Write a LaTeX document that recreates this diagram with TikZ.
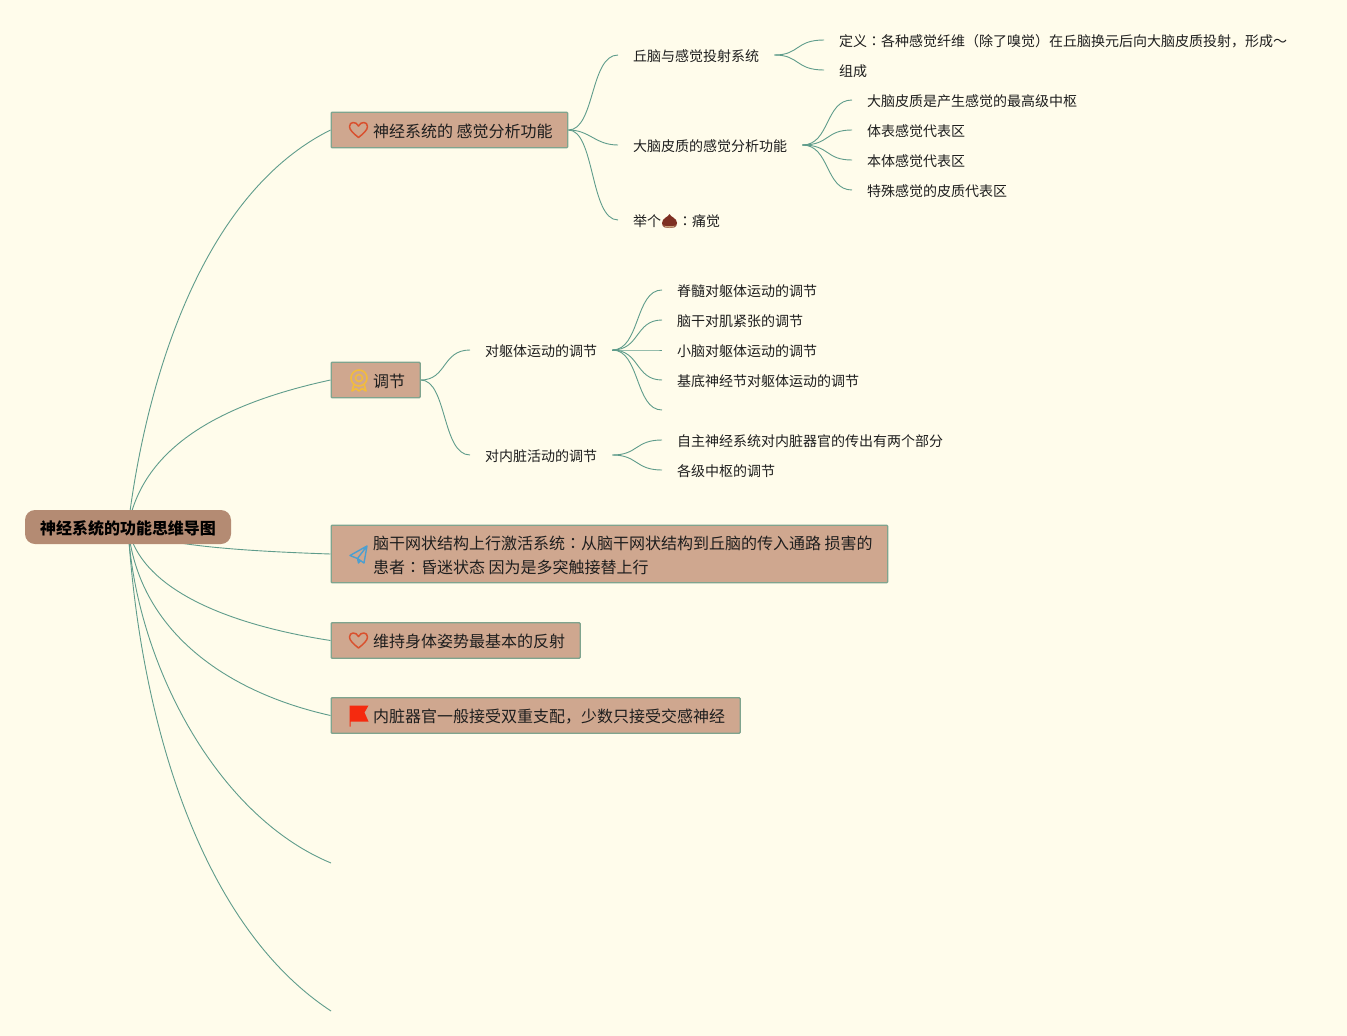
\documentclass[tikz,border=0pt]{standalone}
\usepackage{fontspec}
\setmainfont{Noto Sans CJK SC}
\newfontfamily\colonfont{Noto Sans CJK TC}
\usepackage{xcolor}
\usetikzlibrary{backgrounds}
\definecolor{paper}{HTML}{FFFCEB}
\definecolor{boxfill}{HTML}{CFA78F}
\definecolor{boxline}{HTML}{7FA48E}
\definecolor{rootfill}{HTML}{B48B73}
\definecolor{branchc}{HTML}{5F9C8B}
\definecolor{inkc}{HTML}{1E1E1E}
\definecolor{heartc}{HTML}{D9502E}
\definecolor{medalc}{HTML}{F2BC3C}
\definecolor{planec}{HTML}{4C9FD0}
\definecolor{flagc}{HTML}{F52A0F}
\definecolor{nutc}{HTML}{7E2F22}
\definecolor{capc}{HTML}{C9A27C}
\newcommand{\boxtext}[1]{\raisebox{-1pt}[\height][\depth]{\hspace*{27pt}#1}}
\newcommand{\midcolon}{{\colonfont ：}}
\tikzset{
  rootbox/.style={fill=rootfill,rounded corners=10pt,minimum width=206pt,minimum height=34pt,inner sep=0pt,font=\fontsize{16pt}{20pt}\selectfont\bfseries,text=black},
  topicbox/.style={draw=boxline,line width=1.3pt,fill=boxfill,rounded corners=1pt,anchor=west,inner xsep=15pt,inner ysep=0pt,minimum height=35.5pt,font=\fontsize{16pt}{24pt}\selectfont,text=inkc,align=left},
  leaf/.style={anchor=west,inner xsep=15pt,inner ysep=0pt,text height=13.6pt,text depth=0pt,font=\fontsize{14pt}{18pt}\selectfont,text=inkc},
  branch/.style={draw=branchc,line width=0.9pt},
  heartmark/.pic={\draw[draw=heartc,line width=1.5pt,line join=round] (0,7.5) .. controls (-5,3.5) and (-9,0) .. (-9,-3.5) .. controls (-9,-8.5) and (-2.5,-9) .. (0,-4) .. controls (2.5,-9) and (9,-8.5) .. (9,-3.5) .. controls (9,0) and (5,3.5) .. (0,7.5) -- cycle;},
  medalmark/.pic={\draw[draw=medalc,line width=1.6pt] (0,-2) circle (8pt) (0,-2) circle (3.5pt);
    \draw[draw=medalc,line width=1.6pt,line join=round] (-5,4) -- (-7,11) -- (-3,8.5) -- (0,11) -- (3,8.5) -- (7,11) -- (5,4);},
  planemark/.pic={\draw[draw=planec,line width=1.4pt,line join=round] (-8.5,1) -- (8.5,-8.5) -- (5.5,8.5) -- (-1,4) -- cycle (8.5,-8.5) -- (-1,4) -- (0,8.5) -- (2,5.8);},
  flagmark/.pic={\fill[flagc] (-9,-10) -- (10,-10) -- (6,-3) -- (10,6) -- (-8,6) -- (-8,11) -- (-9,11) -- cycle;},
  nutmark/.pic={\fill[nutc] (0,-7) .. controls (1,-4) and (7.5,-3) .. (7.5,2) .. controls (7.5,7) and (3,7) .. (0,7) .. controls (-3,7) and (-7.5,7) .. (-7.5,2) .. controls (-7.5,-3) and (-1,-4) .. (0,-7) -- cycle;
    \fill[capc] (-6.5,4.5) .. controls (-3,7.5) and (3,7.5) .. (6.5,4.5) .. controls (3,5.5) and (-3,5.5) .. (-6.5,4.5) -- cycle;}
}
\begin{document}
\begin{tikzpicture}[x=1pt,y=-1pt]
   \useasboundingbox (0,0) rectangle (1347,1036);

   \node[rootbox] (root) at (128,527) {\raisebox{-1pt}[\height][\depth]{神经系统的功能思维导图}};

   \node[topicbox] (sense) at (330.5,130) {\boxtext{神经系统的 感觉分析功能}};
   \node[topicbox] (adjust) at (330.5,380) {\boxtext{调节}};
   \node[topicbox,minimum height=57.5pt] (reticular) at (330.5,554) {\boxtext{脑干网状结构上行激活系统\midcolon 从脑干网状结构到丘脑的传入通路 损害的}\\\boxtext{患者\midcolon 昏迷状态 因为是多突触接替上行}};
   \node[topicbox] (posture) at (330.5,640.5) {\boxtext{维持身体姿势最基本的反射}};
   \node[topicbox] (viscera) at (330.5,715.5) {\boxtext{内脏器官一般接受双重支配，少数只接受交感神经}};
   \coordinate (blanka) at (331,863);
   \coordinate (blankb) at (331,1011);

   \pic at (358.5,130) {heartmark};
   \pic at (359,380) {medalmark};
   \pic at (358.5,554.5) {planemark};
   \pic at (358.5,640.5) {heartmark};
   \pic at (358.5,715.5) {flagmark};

   \node[leaf] (relay) at (618,55) {丘脑与感觉投射系统};
   \node[leaf] (cortex) at (618,145) {大脑皮质的感觉分析功能};
   \node[leaf] (pain) at (618,220) {举个\hspace{17pt}\midcolon 痛觉};
   \pic at (669.5,221) {nutmark};

   \node[leaf] (define) at (824,40) {定义\midcolon 各种感觉纤维（除了嗅觉）在丘脑换元后向大脑皮质投射，形成～};
   \node[leaf] (parts) at (824,70) {组成};
   \node[leaf] (top) at (852,100) {大脑皮质是产生感觉的最高级中枢};
   \node[leaf] (body) at (852,130) {体表感觉代表区};
   \node[leaf] (self) at (852,160) {本体感觉代表区};
   \node[leaf] (special) at (852,190) {特殊感觉的皮质代表区};

   \node[leaf] (trunk) at (470,350) {对躯体运动的调节};
   \node[leaf] (organ) at (470,455) {对内脏活动的调节};
   \node[leaf] (spine) at (662,290) {脊髓对躯体运动的调节};
   \node[leaf] (stem) at (662,320) {脑干对肌紧张的调节};
   \node[leaf] (cere) at (662,350) {小脑对躯体运动的调节};
   \node[leaf] (basal) at (662,380) {基底神经节对躯体运动的调节};
   \coordinate (blankc) at (662,410);
   \node[leaf] (auto) at (662,440) {自主神经系统对内脏器官的传出有两个部分};
   \node[leaf] (level) at (662,470) {各级中枢的调节};

   \begin{scope}[on background layer]
   \fill[paper] (0,0) rectangle (1347,1036);
   % main branches
   \draw[branch] (root.center) .. controls (145,385) and (200,195) .. (sense.west);
   \draw[branch] (root.center) .. controls (142,450) and (215,405) .. (adjust.west);
   \draw[branch] (root.center) .. controls (150,545) and (240,551) .. (reticular.west);
   \draw[branch] (root.center) .. controls (140,590) and (230,625) .. (posture.west);
   \draw[branch] (root.center) .. controls (138,630) and (225,692) .. (viscera.west);
   \draw[branch] (root.center) .. controls (135,660) and (215,815) .. (blanka);
   \draw[branch] (root.center) .. controls (140,720) and (200,925) .. (blankb);
   % second level
   \draw[branch] (sense.east) .. controls (595,130) and (590,55) .. (relay.west);
   \draw[branch] (sense.east) .. controls (590,130) and (595,145) .. (cortex.west);
   \draw[branch] (sense.east) .. controls (595,130) and (590,220) .. (pain.west);
   \draw[branch] (relay.east) .. controls (800,55) and (795,40) .. (define.west);
   \draw[branch] (relay.east) .. controls (800,55) and (795,70) .. (parts.west);
   \foreach \leafname/\ypos in {top/100,body/130,self/160,special/190}
     \draw[branch] (cortex.east) .. controls (830,145) and (825,\ypos) .. (\leafname.west);
   \draw[branch] (adjust.east) .. controls (447,380) and (442,350) .. (trunk.west);
   \draw[branch] (adjust.east) .. controls (447,380) and (442,455) .. (organ.west);
   \foreach \leafname/\ypos in {spine/290,stem/320,cere/350,basal/380}
     \draw[branch] (trunk.east) .. controls (640,350) and (635,\ypos) .. (\leafname.west);
   \draw[branch] (trunk.east) .. controls (640,350) and (635,410) .. (blankc);
   \draw[branch] (organ.east) .. controls (638,455) and (635,440) .. (auto.west);
   \draw[branch] (organ.east) .. controls (638,455) and (635,470) .. (level.west);
   \end{scope}
\end{tikzpicture}
\end{document}
